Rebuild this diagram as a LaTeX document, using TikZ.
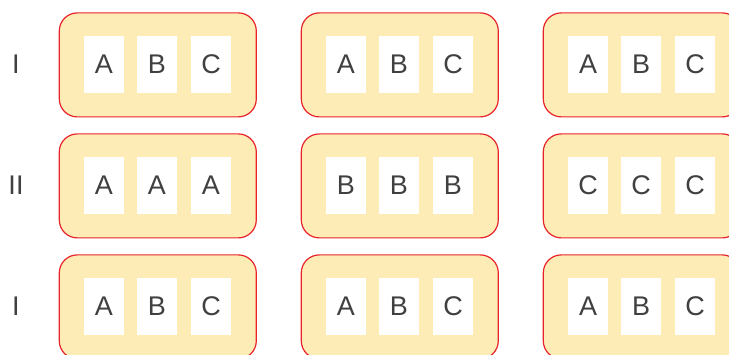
\documentclass[tikz,border=0pt]{standalone}
\usepackage{fontspec}
\setmainfont{Liberation Sans}
\definecolor{boxfill}{RGB}{254,236,182}
\definecolor{boxdraw}{RGB}{232,36,42}
\definecolor{txt}{RGB}{64,64,64}
\tikzset{
  groupbox/.style={draw=boxdraw, line width=1.2pt, fill=boxfill, rounded corners=18pt,
    minimum width=197pt, minimum height=104pt, anchor=north west, inner sep=0pt},
  cell/.style={fill=white, minimum width=40pt, minimum height=57pt, inner sep=0pt,
    text=txt, font=\fontsize{27}{27}\selectfont},
  rowlabel/.style={text=txt, font=\fontsize{27}{27}\selectfont, inner sep=0pt}
}
\begin{document}
\begin{tikzpicture}[x=1pt,y=-1pt]
\useasboundingbox (0,0) rectangle (729,355);
\def\rowtops{12.3,133.3,254.3}
\foreach \r/\t/\lab in {1/12.3/I,2/133.3/II,3/254.3/I}{
  \node[rowlabel] (lab\r) at (16,\t+52.2) {\lab};
  \foreach \c/\l in {1/58.7,2/300.7,3/542.7}{
    \node[groupbox] (box\r\c) at (\l,\t) {};
  }
}
% row 1
\foreach \c/\l in {1/58.7,2/300.7,3/542.7}{
  \node[cell] (c1\c a) at (\l+45.3,64.5) {A};
  \node[cell] (c1\c b) at (\l+98.3,64.5) {B};
  \node[cell] (c1\c c) at (\l+152.3,64.5) {C};
}
% row 2
\foreach \c/\l/\x in {1/58.7/A,2/300.7/B,3/542.7/C}{
  \node[cell] (c2\c a) at (\l+45.3,185.5) {\x};
  \node[cell] (c2\c b) at (\l+98.3,185.5) {\x};
  \node[cell] (c2\c c) at (\l+152.3,185.5) {\x};
}
% row 3
\foreach \c/\l in {1/58.7,2/300.7,3/542.7}{
  \node[cell] (c3\c a) at (\l+45.3,306.5) {A};
  \node[cell] (c3\c b) at (\l+98.3,306.5) {B};
  \node[cell] (c3\c c) at (\l+152.3,306.5) {C};
}
\end{tikzpicture}
\end{document}
